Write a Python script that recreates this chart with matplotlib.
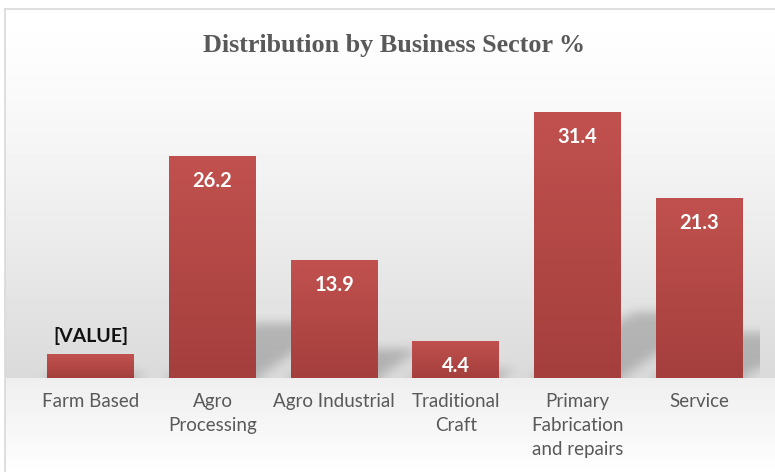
import numpy as np
import matplotlib
matplotlib.use("Agg")
import matplotlib.pyplot as plt
from matplotlib.colors import LinearSegmentedColormap
from matplotlib.lines import Line2D

categories = ["Farm Based", "Agro\nProcessing", "Agro Industrial",
              "Traditional\nCraft", "Primary\nFabrication\nand repairs", "Service"]
shares = [2.8, 26.2, 13.9, 4.4, 31.4, 21.3]
value_labels = ["[VALUE]", "26.2", "13.9", "4.4", "31.4", "21.3"]
title = "Distribution by Business Sector %"

W, H, DPI = 775, 472, 100
fig = plt.figure(figsize=(W / DPI, H / DPI), dpi=DPI)

# ---- page background: soft vertical gradient inside a thin frame ----
bg = fig.add_axes([0, 0, 1, 1], zorder=0)
bg.set_xlim(0, W)
bg.set_ylim(H, 0)
bg.axis("off")
frame_l, frame_t, floor_y = 5, 9, 378
ys = np.arange(H) + 0.5
col = np.ones(H)
up = (ys >= frame_t) & (ys < floor_y)
t = (ys[up] - frame_t) / (floor_y - frame_t)
col[up] = 1.0 - 0.145 * t ** 1.3
lo = ys >= floor_y
t2 = (ys[lo] - floor_y) / (H - floor_y)
col[lo] = 0.935 + 0.06 * t2
img = np.tile(col[:, None], (1, W))
img[:frame_t, :] = 1.0
img[:, :frame_l] = 1.0
bg.imshow(img, cmap="gray", vmin=0, vmax=1, extent=(0, W, H, 0),
          aspect="auto", interpolation="bilinear")
bg.add_line(Line2D([frame_l, W], [frame_t, frame_t], color="#d9d9d9", lw=1.2))
bg.add_line(Line2D([frame_l, frame_l], [frame_t, H], color="#d9d9d9", lw=1.2))

# ---- plot area ----
px_per_unit = 8.46
ymax = 35
ax_left, ax_right = 30, 760
ax = fig.add_axes([ax_left / W, (H - floor_y) / H, (ax_right - ax_left) / W,
                   ymax * px_per_unit / H], zorder=1)
ax.patch.set_visible(False)
for s in ax.spines.values():
    s.set_visible(False)
n = len(shares)
x = np.arange(n)
ax.set_xlim(-0.5, n - 0.5)
ax.set_ylim(0, ymax)
bar_w = 0.715

# ---- cast shadows behind the bars ----
nx = ax_right - ax_left
ny = int(round(ymax * px_per_unit))
gx = (np.arange(nx) + 0.5)
gy = (np.arange(ny) + 0.5)
GX, GY = np.meshgrid(gx, gy)
ppx = nx / n
mask = np.zeros((ny, nx))
for i, v in enumerate(shares):
    hs = 0.25 * v * px_per_unit
    x0 = (i + 0.5 - bar_w / 2) * ppx
    x1 = (i + 0.5 + bar_w / 2) * ppx
    xs = GX - 1.5 * GY
    inside = (GY <= hs) & (xs >= x0) & (xs <= x1)
    mask = np.maximum(mask, inside.astype(float))


def blur(a, sigma, axis):
    r = int(3 * sigma)
    k = np.exp(-0.5 * (np.arange(-r, r + 1) / sigma) ** 2)
    k /= k.sum()
    pad = [(0, 0), (0, 0)]
    pad[axis] = (r, r)
    ap = np.pad(a, pad, mode="edge")
    return np.apply_along_axis(lambda m: np.convolve(m, k, mode="valid"), axis, ap)


mask = blur(blur(mask, 5, 0), 7, 1)
shadow = np.zeros((ny, nx, 4))
shadow[..., 3] = 0.2 * mask
ax.imshow(shadow, extent=(-0.5, n - 0.5, 0, ymax), origin="lower",
          aspect="auto", interpolation="bilinear", zorder=1)

# ---- bars with a vertical red gradient ----
bar_cmap = LinearSegmentedColormap.from_list("bar", ["#a43f3d", "#c1514e"])
bars = ax.bar(x, shares, width=bar_w, color="#b34846", zorder=2)
grad = np.linspace(0, 1, 256)[:, None]
for b in bars:
    bx, by = b.get_x(), b.get_y()
    im = ax.imshow(grad, cmap=bar_cmap, extent=(bx, bx + b.get_width(), by, by + b.get_height()),
                   origin="lower", aspect="auto", zorder=3)
    im.set_clip_path(b)
ax.set_xlim(-0.5, n - 0.5)
ax.set_ylim(0, ymax)

# ---- value labels ----
lab_font = "Lato"
for i, (v, lab) in enumerate(zip(shares, value_labels)):
    if lab.startswith("["):
        ax.annotate(lab, (i, v), xytext=(0, 13.5), textcoords="offset points",
                    ha="center", va="center", fontsize=14, fontweight="bold",
                    family=lab_font, color="#111111", zorder=5)
    else:
        ax.annotate(lab, (i, v), xytext=(0, -18), textcoords="offset points",
                    ha="center", va="center", fontsize=14.5, fontweight="bold",
                    family=lab_font, color="white", zorder=5)

ax.set_xticks(x)
ax.set_xticklabels(categories, fontsize=13.5, family=lab_font, color="#595959",
                   linespacing=1.5)
ax.tick_params(axis="x", length=0, pad=11)
ax.set_yticks([])

fig.text(394 / W, (H - 52) / H, title, ha="center", va="baseline",
         fontsize=18.8, fontweight="bold", family="Liberation Serif", color="#595959")

fig.savefig("out.png", dpi=DPI)
